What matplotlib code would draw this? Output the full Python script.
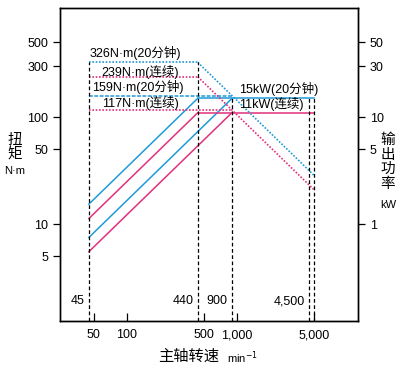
import numpy as np
import matplotlib
matplotlib.use('Agg')
import matplotlib.pyplot as plt
from matplotlib.ticker import FixedLocator, NullLocator, FixedFormatter

plt.rcParams['font.family'] = ['Liberation Sans', 'Noto Sans CJK SC']

# data
speed_base = [45, 440, 900, 4500, 5000]          # min-1, marked speeds
torque_20min = [326, 159]                         # N·m, base speed 440 / 900
torque_cont = [239, 117]
power_20min = 15                                  # kW
power_cont = 11
base_speeds = [440, 900]
max_speed = 5000

blue = '#1f9ad8'
pink = '#e2307c'
black_dash = (0, (3, 2))

fig = plt.figure(figsize=(4.03, 3.71), dpi=100)
ax = fig.add_axes([60 / 403, 1 - 321 / 371, 298 / 403, 313 / 371])
ax.set_xscale('log')
ax.set_yscale('log')
ax.set_xlim(24.6, 12590)
ax.set_ylim(1.24, 1050)


def kw(t, n):
    return t * 2 * np.pi * n / 60 / 1000


# power curves (right axis, drawn x10 on left axis)
for t20, tc, nb in zip(torque_20min, torque_cont, base_speeds):
    ax.plot([45, nb], [kw(t20, 45) * 10, kw(t20, nb) * 10], color=blue, lw=1.1)
    ax.plot([45, nb], [kw(tc, 45) * 10, kw(tc, nb) * 10], color=pink, lw=1.1)
ax.plot([440, max_speed], [power_20min * 10] * 2, color=blue, lw=1.1)
ax.plot([440, max_speed], [power_cont * 10] * 2, color=pink, lw=1.1)

# torque curves
ax.plot([45, 440], [torque_20min[0]] * 2, color=blue, lw=1.2, ls=(0, (1, 1)))
ax.plot([45, 440], [torque_cont[0]] * 2, color=pink, lw=1.2, ls=(0, (1, 1)))
ax.plot([45, 900], [torque_20min[1]] * 2, color=blue, lw=1.1, ls=(0, (2.5, 1)))
ax.plot([45, 900], [torque_cont[1]] * 2, color=pink, lw=1.2, ls=(0, (1, 1)))
n = np.array([440, max_speed])
ax.plot(n, power_20min * 1000 * 60 / (2 * np.pi * n), color=blue, lw=1.2, ls=(0, (1, 1)))
ax.plot(n, power_cont * 1000 * 60 / (2 * np.pi * n), color=pink, lw=1.2, ls=(0, (1, 1)))

# vertical markers
tops = [torque_20min[0], torque_20min[0], torque_20min[1], power_20min * 10, power_20min * 10]
for s, top in zip(speed_base, tops):
    ax.plot([s, s], [1.24, top], color='black', lw=0.9, ls=black_dash)
for s, lab in zip(speed_base[:4], ['45', '440', '900', '4,500']):
    ax.annotate(lab, (s, 1.9), xytext=(-3, 0), textcoords='offset points',
                ha='right', va='center', fontsize=9)

fs = 9
ax.text(46.1, 396, '326N·m(20分钟)', fontsize=fs, va='center')
ax.text(59, 263, '239N·m(连续)', fontsize=fs, va='center')
ax.text(48, 191, '159N·m(20分钟)', fontsize=fs, va='center')
ax.text(59, 135, '117N·m(连续)', fontsize=fs, va='center')
ax.text(1040, 183, '15kW(20分钟)', fontsize=fs, va='center')
ax.text(1040, 132, '11kW(连续)', fontsize=fs, va='center')

# axes ticks
ax.xaxis.set_major_locator(FixedLocator([50, 100, 500, 1000, 5000]))
ax.xaxis.set_major_formatter(FixedFormatter(['50', '100', '500', '1,000', '5,000']))
ax.xaxis.set_minor_locator(NullLocator())
ax.tick_params(axis='x', direction='in', length=6, width=0.9, labelsize=fs, pad=6)
ax.yaxis.set_major_locator(FixedLocator([5, 10, 50, 100, 300, 500]))
ax.yaxis.set_major_formatter(FixedFormatter(['5', '10', '50', '100', '300', '500']))
ax.yaxis.set_minor_locator(NullLocator())
ax.tick_params(axis='y', direction='out', length=5, width=0.9, labelsize=fs)

ax2 = ax.twinx()
ax2.set_yscale('log')
ax2.set_ylim(0.124, 105)
ax2.yaxis.set_major_locator(FixedLocator([1, 5, 10, 30, 50]))
ax2.yaxis.set_major_formatter(FixedFormatter(['1', '5', '10', '30', '50']))
ax2.yaxis.set_minor_locator(NullLocator())
ax2.tick_params(axis='y', direction='out', length=5, width=0.9, labelsize=fs)
for a in (ax, ax2):
    for sp in a.spines.values():
        sp.set_linewidth(1.0)

# axis titles
fig.text(15 / 403, 1 - 147 / 371, '扭\n矩', fontsize=10.5, ha='center', va='center', linespacing=1.05)
fig.text(15 / 403, 1 - 171 / 371, 'N·m', fontsize=8, ha='center', va='center')
fig.text(388 / 403, 1 - 162 / 371, '输\n出\n功\n率', fontsize=10.5, ha='center', va='center', linespacing=1.05)
fig.text(388 / 403, 1 - 205 / 371, 'kW', fontsize=8, ha='center', va='center')
fig.text(189 / 403, 1 - 357 / 371, '主轴转速', fontsize=11, ha='center', va='center')
fig.text(227 / 403, 1 - 358 / 371, 'min$^{-1}$', fontsize=8, ha='left', va='center')

fig.savefig('out.png', dpi=100)
